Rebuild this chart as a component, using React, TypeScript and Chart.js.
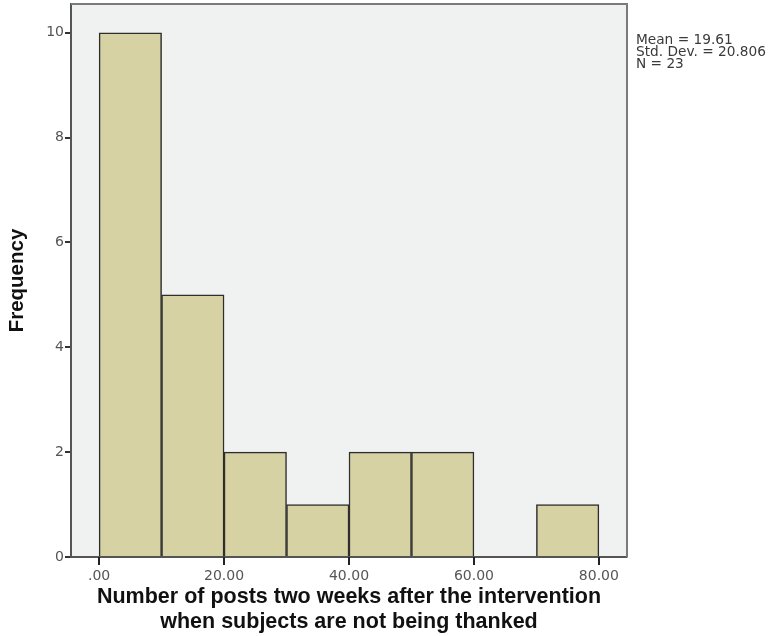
import React, { useEffect, useRef } from "react";
import { Chart, registerables } from "chart.js";

Chart.register(...registerables);

const binCenters = [5, 15, 25, 35, 45, 55, 75];
const frequencies = [10, 5, 2, 1, 2, 2, 1];
const xTickValues = [0, 20, 40, 60, 80];
const xTickLabels = [".00", "20.00", "40.00", "60.00", "80.00"];
const yTickValues = [0, 2, 4, 6, 8, 10];
const statsLines = ["Mean = 19.61", "Std. Dev. = 20.806", "N = 23"];
const xTitleLines = ["Number of posts two weeks after the intervention", "when subjects are not being thanked"];
const yTitle = "Frequency";

const FONT = "'Liberation Sans', Arial, sans-serif";
const TICKFONT = "'DejaVu Sans', sans-serif";

const framePlugin = {
  id: "frame",
  beforeDraw(chart: any) {
    const { ctx, chartArea: a } = chart;
    ctx.save();
    ctx.fillStyle = "#f0f1f1";
    ctx.fillRect(a.left, a.top, a.right - a.left, a.bottom - a.top);
    ctx.restore();
  },
  afterDraw(chart: any) {
    const { ctx, chartArea: a } = chart;
    const xs = chart.scales.x;
    ctx.save();
    ctx.strokeStyle = "#7a7a7a";
    ctx.lineWidth = 2;
    ctx.beginPath();
    ctx.moveTo(a.left, a.top);
    ctx.lineTo(a.right, a.top);
    ctx.lineTo(a.right, a.bottom);
    ctx.stroke();
    ctx.strokeStyle = "#222";
    ctx.lineWidth = 2;
    xTickValues.forEach((v) => {
      const px = Math.round(xs.getPixelForValue(v));
      ctx.beginPath();
      ctx.moveTo(px, a.bottom);
      ctx.lineTo(px, a.bottom + 8);
      ctx.stroke();
    });
    ctx.fillStyle = "#3a3a3a";
    ctx.font = `13.7px ${TICKFONT}`;
    ctx.textBaseline = "alphabetic";
    statsLines.forEach((s, i) => ctx.fillText(s, a.right + 9, 44 + i * 12));
    ctx.restore();
  },
};

export default function App() {
  const ref = useRef<HTMLCanvasElement>(null);
  useEffect(() => {
    if (!ref.current) return;
    const chart = new Chart(ref.current, {
      type: "bar",
      data: {
        datasets: [
          {
            data: binCenters.map((x, i) => ({ x, y: frequencies[i] })),
            backgroundColor: "#d7d2a3",
            borderColor: "#2e2e2e",
            borderWidth: 1.5,
            barPercentage: 1,
            categoryPercentage: 1,
          },
        ],
      },
      options: {
        animation: false,
        responsive: false,
        maintainAspectRatio: false,
        layout: { padding: { left: 0, right: 148, top: 4, bottom: 0 } },
        plugins: { legend: { display: false }, tooltip: { enabled: false } },
        scales: {
          x: {
            type: "linear",
            offset: false,
            min: -4.5,
            max: 84.5,
            afterBuildTicks: (s: any) => {
              s.ticks = xTickValues.map((v) => ({ value: v }));
            },
            afterFit: (s: any) => {
              s.height = 79;
              s.paddingLeft = 0;
              s.paddingRight = 0;
            },
            ticks: {
              callback: (v: any) => {
                const i = xTickValues.indexOf(v);
                return i >= 0 ? xTickLabels[i] : "";
              },
              color: "#555",
              font: { family: TICKFONT, size: 14 },
              padding: 3,
              maxRotation: 0,
            },
            grid: { offset: false, drawOnChartArea: false, tickLength: 8, tickColor: "#333", lineWidth: 1.5 },
            border: { display: true, color: "#555", width: 2 },
            title: {
              display: true,
              text: xTitleLines,
              color: "#111",
              font: { family: FONT, size: 21.5, weight: "bold", lineHeight: 1.17 },
              padding: { top: 0, bottom: 1 },
            },
          },
          y: {
            type: "linear",
            min: 0,
            max: 10.55,
            afterBuildTicks: (s: any) => {
              s.ticks = yTickValues.map((v) => ({ value: v }));
            },
            afterFit: (s: any) => {
              s.width = 71;
              s.paddingTop = 0;
              s.paddingBottom = 0;
            },
            ticks: {
              color: "#555",
              font: { family: TICKFONT, size: 14 },
              padding: 1,
            },
            grid: { drawOnChartArea: false, tickLength: 6, tickColor: "#333", lineWidth: 2 },
            border: { display: true, color: "#555", width: 2 },
            title: {
              display: true,
              text: yTitle,
              color: "#111",
              font: { family: FONT, size: 20.5, weight: "bold" },
              padding: { top: 5, bottom: 0 },
            },
          },
        },
      },
      plugins: [framePlugin],
    } as any);
    return () => chart.destroy();
  }, []);
  return (
    <div style={{ position: "fixed", left: 0, top: 0, width: 775, height: 636, background: "#fff" }}>
      <canvas ref={ref} width={775} height={636} style={{ display: "block" }} />
    </div>
  );
}
